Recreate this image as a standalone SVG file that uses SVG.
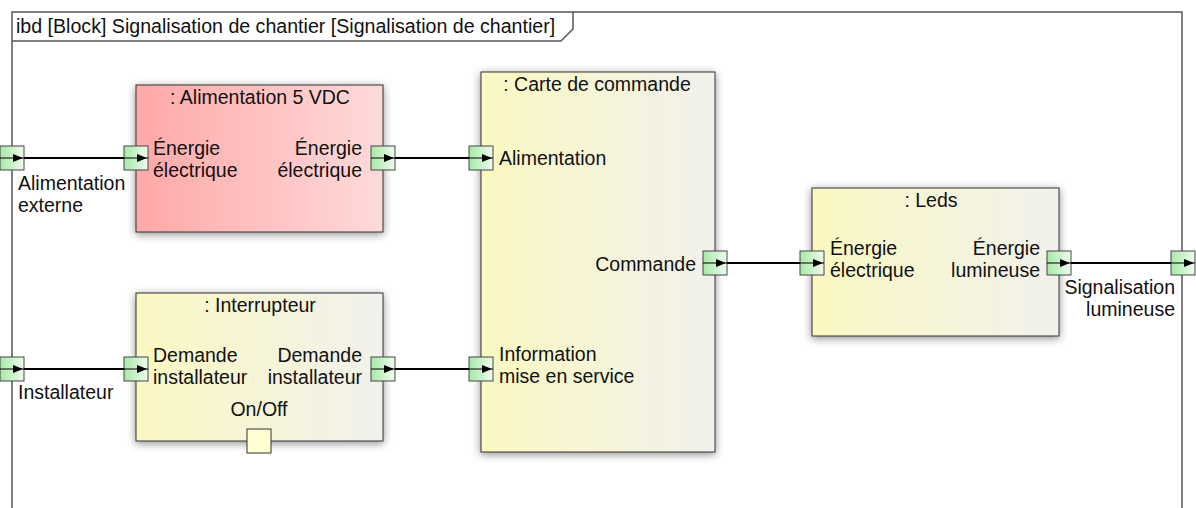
<svg xmlns="http://www.w3.org/2000/svg" xmlns:xlink="http://www.w3.org/1999/xlink" width="1196" height="508" viewBox="0 0 1196 508">
<style>
text{font-family:"Liberation Sans",Arial,sans-serif;font-size:19.5px;fill:#111;}
.mid{text-anchor:middle;}
.end{text-anchor:end;}
.blk{stroke:#333;stroke-width:1;}
.con{stroke:#000;stroke-width:2;fill:none;}
.frame{fill:none;stroke:#555;stroke-width:1.5;}
</style>
<defs>
<linearGradient id="red" x1="0" y1="0" x2="1" y2="0"><stop offset="0" stop-color="#ffa8a8"/><stop offset="1" stop-color="#ffdada"/></linearGradient>
<linearGradient id="yel" x1="0" y1="0" x2="1" y2="0"><stop offset="0" stop-color="#fbf8c2"/><stop offset="1" stop-color="#f1f1ed"/></linearGradient>
<linearGradient id="pg" x1="0" y1="0" x2="1" y2="0"><stop offset="0" stop-color="#a6e8a6"/><stop offset="1" stop-color="#f0fcf0"/></linearGradient>
<filter id="sh" x="-10%" y="-10%" width="120%" height="120%"><feDropShadow dx="0" dy="2" stdDeviation="4" flood-color="#000" flood-opacity="0.45"/></filter>
<g id="port"><rect x="-12" y="-12" width="24" height="24" fill="url(#pg)" stroke="#444" stroke-width="1"/><line x1="-12" y1="0" x2="12" y2="0" stroke="#000" stroke-width="1"/><path d="M1,-4 L11,0 L1,4 Z" fill="#000"/></g>
</defs>
<rect width="1196" height="508" fill="#fff"/>
<g id="frame">
<path class="frame" d="M12,508 V12 H1182 V508"/>
<path class="frame" d="M12,41 H561 L573,29 V12"/>
<text x="16" y="33" style="font-size:19.6px">ibd [Block] Signalisation de chantier [Signalisation de chantier]</text>
<use xlink:href="#port" x="12" y="158"/>
<text x="18" y="190">Alimentation</text>
<text x="18" y="212">externe</text>
<use xlink:href="#port" x="12" y="369"/>
<text x="18" y="399">Installateur</text>
<use xlink:href="#port" x="1183" y="263"/>
<text class="end" x="1175" y="294">Signalisation</text>
<text class="end" x="1175" y="316">lumineuse</text>
</g>
<g id="alimentation">
<rect class="blk" x="136" y="85" width="247" height="147" fill="url(#red)" filter="url(#sh)"/>
<text class="mid" x="260" y="104">: Alimentation 5 VDC</text>
<text x="153" y="155">Énergie</text>
<text x="153" y="177">électrique</text>
<text class="end" x="362" y="155">Énergie</text>
<text class="end" x="362" y="177">électrique</text>
<use xlink:href="#port" x="136" y="158"/>
<use xlink:href="#port" x="383" y="158"/>
</g>
<g id="interrupteur">
<rect class="blk" x="136" y="293" width="247" height="148" fill="url(#yel)" filter="url(#sh)"/>
<text class="mid" x="260" y="312">: Interrupteur</text>
<text x="153" y="362">Demande</text>
<text x="153" y="384">installateur</text>
<text class="end" x="362" y="362">Demande</text>
<text class="end" x="362" y="384">installateur</text>
<text class="mid" x="259" y="416">On/Off</text>
<use xlink:href="#port" x="136" y="369"/>
<use xlink:href="#port" x="383" y="369"/>
<rect x="247" y="429" width="24" height="24" fill="#ffffd2" stroke="#333" stroke-width="1"/>
</g>
<g id="carte">
<rect class="blk" x="481" y="72" width="234" height="380" fill="url(#yel)" filter="url(#sh)"/>
<text class="mid" x="597" y="91">: Carte de commande</text>
<text x="499" y="165">Alimentation</text>
<text class="end" x="696" y="271">Commande</text>
<text x="499" y="361">Information</text>
<text x="499" y="383">mise en service</text>
<use xlink:href="#port" x="481" y="158"/>
<use xlink:href="#port" x="715" y="263"/>
<use xlink:href="#port" x="481" y="369"/>
</g>
<g id="leds">
<rect class="blk" x="812" y="188" width="247" height="148" fill="url(#yel)" filter="url(#sh)"/>
<text class="mid" x="931" y="207">: Leds</text>
<text x="830" y="255">Énergie</text>
<text x="830" y="277">électrique</text>
<text class="end" x="1040" y="255">Énergie</text>
<text class="end" x="1040" y="277">lumineuse</text>
<use xlink:href="#port" x="812" y="263"/>
<use xlink:href="#port" x="1059" y="263"/>
</g>
<g id="connectors">
<line class="con" x1="24" y1="158" x2="124" y2="158"/>
<line class="con" x1="395" y1="158" x2="469" y2="158"/>
<line class="con" x1="727" y1="263" x2="800" y2="263"/>
<line class="con" x1="1071" y1="263" x2="1171" y2="263"/>
<line class="con" x1="24" y1="369" x2="124" y2="369"/>
<line class="con" x1="395" y1="369" x2="469" y2="369"/>
</g>
</svg>
